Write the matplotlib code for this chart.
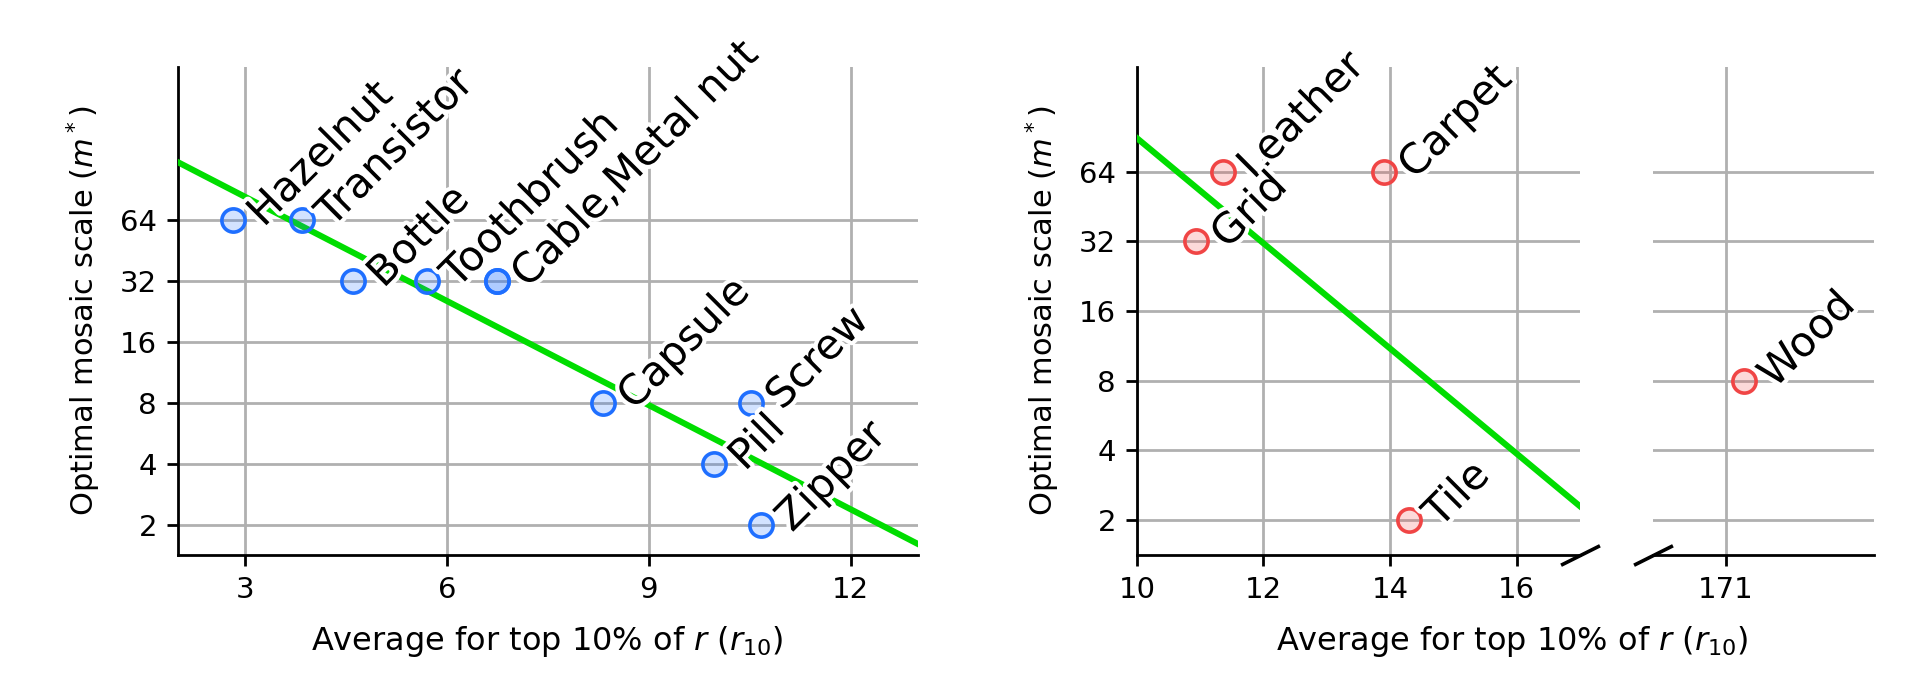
import numpy as np
import matplotlib.pyplot as plt
import matplotlib.patheffects as pe

# object categories (left panel)
obj_names = ['Hazelnut', 'Transistor', 'Bottle', 'Toothbrush', 'Cable', 'Metal nut',
             'Capsule', 'Screw', 'Pill', 'Zipper']
obj_r10 = [2.82, 3.84, 4.60, 5.70, 6.74, 6.74, 8.32, 10.52, 9.97, 10.67]
obj_m = [64, 64, 32, 32, 32, 32, 8, 8, 4, 2]

# texture categories (right panel)
tex_names = ['Leather', 'Grid', 'Carpet', 'Tile', 'Wood']
tex_r10 = [11.36, 10.94, 13.90, 14.30, 171.29]
tex_m = [64, 32, 64, 2, 8]

yticks = [2, 4, 8, 16, 32, 64]

BLUE = '#1f6fff'
RED = '#f04545'
GREEN = '#00dd00'
XLABEL = 'Average for top 10% of $r$ ($r_{10}$)'
YLABEL = 'Optimal mosaic scale ($m^*$)'

plt.rcParams['font.size'] = 10.5
plt.rcParams['axes.linewidth'] = 1.0
plt.rcParams['xtick.major.size'] = 4
plt.rcParams['ytick.major.size'] = 4
plt.rcParams['xtick.major.width'] = 1.0
plt.rcParams['ytick.major.width'] = 1.0

fig = plt.figure(figsize=(9.575, 3.365), dpi=200)
ax1 = fig.add_axes([0.0928, 0.1753, 0.3866, 0.7251])
ax2 = fig.add_axes([0.5937, 0.1753, 0.2313, 0.7251])
ax3 = fig.add_axes([0.8632, 0.1753, 0.1154, 0.7251])

stroke = [pe.withStroke(linewidth=3, foreground='white')]


def label_points(ax, xs, ys, names):
    groups = {}
    for x, y, n in zip(xs, ys, names):
        groups.setdefault((x, y), []).append(n)
    for (x, y), ns in groups.items():
        ax.annotate(','.join(ns), (x, y), xytext=(8, 0), textcoords='offset points',
                    rotation=45, rotation_mode='anchor', ha='left', va='center',
                    fontsize=15, path_effects=stroke, zorder=5)


def style(ax):
    ax.set_yscale('log', base=2)
    ax.set_yticks(yticks)
    ax.set_yticklabels([str(t) for t in yticks])
    ax.minorticks_off()
    ax.grid(True, color='#b0b0b0', linewidth=1.0)
    ax.set_axisbelow(True)
    ax.spines['top'].set_visible(False)
    ax.spines['right'].set_visible(False)


# left panel
style(ax1)
ax1.set_xlim(2, 13)
ax1.set_ylim(2 ** 0.5, 2 ** 8.5)
ax1.set_xticks([3, 6, 9, 12])
k, b = np.polyfit(obj_r10, np.log2(obj_m), 1)
xl = np.array(ax1.get_xlim())
ax1.plot(xl, 2 ** (k * xl + b), color=GREEN, lw=2.2, zorder=3)
ax1.scatter(obj_r10, obj_m, s=70, facecolors=BLUE + '33', edgecolors=BLUE,
            linewidths=1.3, zorder=4)
label_points(ax1, obj_r10, obj_m, obj_names)
ax1.set_ylabel(YLABEL, fontsize=11, labelpad=6)

# right panel, broken x axis
for ax in (ax2, ax3):
    style(ax)
    ax.set_ylim(2 ** 0.5, 2 ** 7.5)
    ax.scatter(tex_r10, tex_m, s=70, facecolors=RED + '33', edgecolors=RED,
               linewidths=1.3, zorder=4)
    label_points(ax, tex_r10, tex_m, tex_names)

ax2.set_xlim(10, 17)
ax2.set_xticks([10, 12, 14, 16])
ax3.set_xlim(169.85, 173.35)
ax3.set_xticks([171])
ax3.spines['left'].set_visible(False)
ax3.tick_params(axis='y', left=False, labelleft=False)
ax2.set_ylabel(YLABEL, fontsize=11, labelpad=6)

# fit on textures except the outlier
k2, b2 = np.polyfit(tex_r10[:4], np.log2(tex_m[:4]), 1)
xr = np.array(ax2.get_xlim())
ax2.plot(xr, 2 ** (k2 * xr + b2), color=GREEN, lw=2.2, zorder=3)

# break marks
mk = dict(marker=[(-1, -0.5), (1, 0.5)], markersize=14, linestyle='none',
          color='k', mec='k', mew=1.3, clip_on=False)
ax2.plot([1], [0], transform=ax2.transAxes, **mk)
ax3.plot([0], [0], transform=ax3.transAxes, **mk)

fig.text(0.286, 0.0475, XLABEL, ha='center', va='center', fontsize=11.5)
fig.text(0.7895, 0.0475, XLABEL, ha='center', va='center', fontsize=11.5)

for ax in (ax1, ax2, ax3):
    for t in ax.texts:
        t.set_clip_on(False)

fig.savefig('out.png', dpi=200)
